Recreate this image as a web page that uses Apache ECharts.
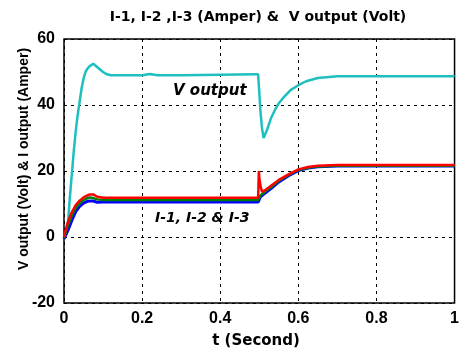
<!DOCTYPE html>
<html><head><meta charset="utf-8">
<script src="https://cdn.jsdelivr.net/npm/echarts@6/dist/echarts.min.js"></script>
<style>html,body{margin:0;padding:0;background:#fff}#c{width:462px;height:349px}</style>
</head><body><div id="c"></div>
<script>
// Data
const xTicks = [0, 0.2, 0.4, 0.6, 0.8, 1];
const yTicks = [-20, 0, 20, 40, 60];
const tV = [0,0.005,0.01,0.015,0.02,0.025,0.03,0.035,0.04,0.045,0.05,0.055,0.06,0.065,0.07,0.075,0.08,0.09,0.1,0.11,0.12,0.13,0.2,0.22,0.24,0.3,0.4,0.49,0.497,0.5,0.503,0.507,0.511,0.515,0.52,0.53,0.54,0.55,0.56,0.58,0.6,0.62,0.65,0.7,0.75,0.8,0.9,1.0];
const vOut = [0,1,4,12,19,26,32,37,41,45,48,50,51,51.7,52.3,52.5,52,51,50,49.3,49,49,49,49.4,49,49,49.2,49.3,49.3,44,38,33,30,30.5,32.5,36,38.5,40.5,42,44.5,46,47.2,48.2,48.7,48.7,48.7,48.7,48.7];
const tI = [0,0.003,0.01,0.02,0.03,0.04,0.05,0.06,0.066,0.075,0.085,0.1,0.2,0.3,0.4,0.497,0.499,0.5,0.503,0.507,0.515,0.53,0.55,0.575,0.6,0.625,0.65,0.7,0.8,1.0];
const i1 = [0,1.6,4.6,7.5,9.7,11,12,12.6,12.9,12.9,12.2,11.9,11.9,11.9,11.9,11.9,20,18,15.5,13.7,14.2,15.5,17.3,19,20.5,21.2,21.6,21.8,21.8,21.8];
const i2 = [-0.3,0.8,3.5,6.5,8.8,10.2,11.2,11.8,12,11.8,11.4,11.2,11.2,11.2,11.2,11.2,11.3,11.8,12.6,13.2,13.8,15.1,17,18.8,20.3,21,21.4,21.6,21.6,21.6];
const i3 = [-0.6,-0.4,2,5,7.7,9.3,10.3,10.8,10.9,10.9,10.5,10.6,10.6,10.6,10.6,10.6,10.7,11,12.2,12.8,13.3,14.7,16.7,18.6,20.1,20.9,21.3,21.5,21.5,21.5];

const zip = (t, v) => t.map((x, k) => [x, v[k]]);
const F = "'DejaVu Sans', 'Liberation Sans', sans-serif";
const FL = "'Liberation Sans', Arial, sans-serif";
const chart = echarts.init(document.getElementById('c'), null, {renderer: 'canvas'});
chart.setOption({
  animation: false,
  backgroundColor: '#fff',
  grid: {left: 64, right: 5, top: 39, bottom: 46, show: true, borderColor: '#000', borderWidth: 1.5, backgroundColor: 'transparent'},
  xAxis: {type: 'value', min: 0, max: 1, interval: 0.2,
    axisLine: {show: false}, axisTick: {show: false},
    splitLine: {show: true, lineStyle: {color: '#000', type: [3, 4], width: 1}},
    axisLabel: {color: '#000', fontWeight: 'bold', fontSize: 16, fontFamily: FL, margin: 8,
      formatter: v => xTicks.includes(+v.toFixed(1)) ? String(+v.toFixed(1)) : ''}},
  yAxis: {type: 'value', min: -20, max: 60, interval: 20,
    axisLine: {show: false}, axisTick: {show: false},
    splitLine: {show: true, lineStyle: {color: '#000', type: [3, 4], width: 1}},
    axisLabel: {color: '#000', fontWeight: 'bold', fontSize: 16, fontFamily: FL, margin: 9,
      formatter: v => yTicks.includes(v) ? String(v) : ''}},
  series: [
    {type: 'line', data: zip(tV, vOut), showSymbol: false, lineStyle: {color: '#1fbfbf', width: 2.5}, z: 3},
    {type: 'line', data: zip(tI, i3), showSymbol: false, lineStyle: {color: '#0000ff', width: 3}, z: 4},
    {type: 'line', data: zip(tI, i2), showSymbol: false, lineStyle: {color: '#008000', width: 2.5}, z: 5},
    {type: 'line', data: zip(tI, i1), showSymbol: false, lineStyle: {color: '#ff0000', width: 2.5}, z: 6}
  ],
  graphic: [
    {type: 'text', x: 258, y: 17, style: {text: 'I-1, I-2 ,I-3 (Amper) &  V output (Volt)', font: "bold 14px " + F, fill: '#000', textAlign: 'center', textVerticalAlign: 'middle'}},
    {type: 'text', x: 256, y: 341, style: {text: 't (Second)', font: "bold 15px " + F, fill: '#000', textAlign: 'center', textVerticalAlign: 'middle'}},
    {type: 'text', x: 24, y: 159, rotation: Math.PI / 2, style: {text: 'V output (Volt) & I output (Amper)', font: "bold 14px " + FL, fill: '#000', textAlign: 'center', textVerticalAlign: 'middle'}},
    {type: 'text', x: 173, y: 91, style: {text: 'V output', font: "italic bold 15px " + F, fill: '#000', textAlign: 'left', textVerticalAlign: 'middle'}},
    {type: 'text', x: 155, y: 218, style: {text: 'I-1, I-2 & I-3', font: "italic bold 14px " + F, fill: '#000', textAlign: 'left', textVerticalAlign: 'middle'}}
  ]
});
</script></body></html>
